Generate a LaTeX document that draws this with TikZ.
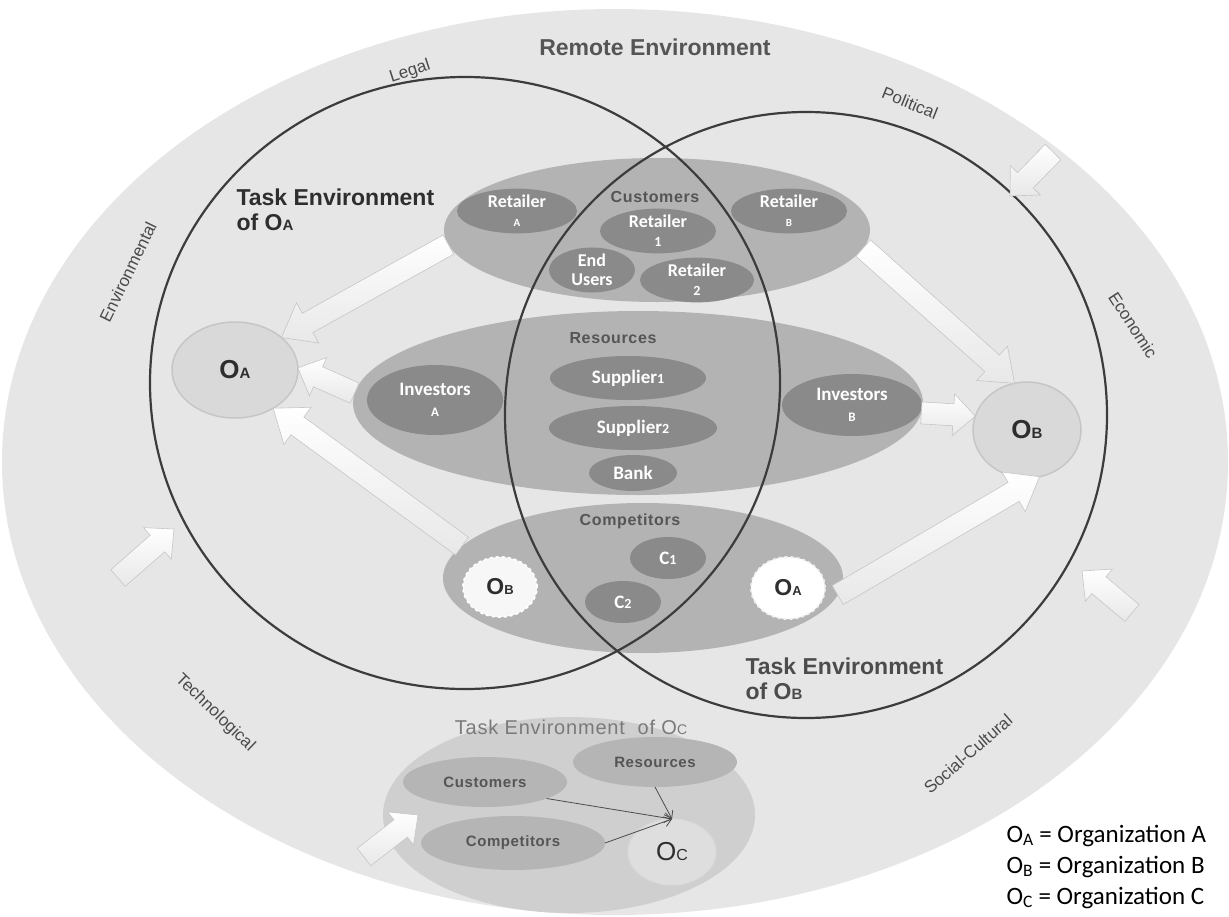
\documentclass[tikz,border=0pt]{standalone}
\usepackage{fontspec}
\setmainfont{Liberation Sans}
\newfontfamily\calfont{Carlito}
\newfontfamily\spfont[LetterSpace=4]{Liberation Sans}
\usetikzlibrary{shapes.geometric,calc,arrows.meta}

\definecolor{bgell}{HTML}{E6E6E6}
\definecolor{midell}{HTML}{B3B3B3}
\definecolor{darkell}{HTML}{8A8A8A}
\definecolor{orgfill}{HTML}{D9D9D9}
\definecolor{orgline}{HTML}{C6C6C6}
\definecolor{orgtxt}{HTML}{2E2E2E}
\definecolor{txtgray}{HTML}{555555}
\definecolor{outertxt}{HTML}{4A4A4A}
\definecolor{ringline}{HTML}{3C3C3C}
\definecolor{ocenv}{HTML}{CFCFCF}
\definecolor{ocitem}{HTML}{B5B5B5}
\definecolor{octxt}{HTML}{7A7A7A}
\definecolor{ocorg}{HTML}{DEDEDE}

\newcommand\fs[1]{\fontsize{#1}{#1}\selectfont}
\newcommand\blkarrow[5]{%
  \coordinate (bah) at ($(#2)!#5!(#1)$);
  \path[barrow] ($(#1)!#3!90:(#2)$) -- ($(bah)!#3!90:(#2)$) -- ($(bah)!#4!90:(#2)$) -- (#2)
     -- ($(bah)!#4!-90:(#2)$) -- ($(bah)!#3!-90:(#2)$) -- ($(#1)!#3!-90:(#2)$) -- cycle;
}

\tikzset{
  sz/.style 2 args={minimum width=#1pt, minimum height=#2pt},
  ell/.style={ellipse, inner sep=0pt, outer sep=0pt},
  grp/.style={ell, fill=midell},
  item/.style={ell, fill=darkell, text=white, align=center, font=\calfont\bfseries\fontsize{18}{19}\selectfont},
  org/.style={ell, fill=orgfill, draw=orgline, line width=1.5pt, text=orgtxt, font=\bfseries},
  ring/.style={ell, draw=ringline, line width=2.2pt},
  grplbl/.style={text=txtgray, font=\spfont\bfseries\fs{16}},
  outer/.style={text=outertxt, font=\fs{17}},
  ocitm/.style={ell, fill=ocitem, text=txtgray, font=\spfont\bfseries\fs{15}},
  barrow/.style={top color=white, bottom color=gray!18, draw=gray!45, line width=0.6pt},
  thinarr/.style={draw=gray!60!black, line width=0.8pt, -{Straight Barb[length=7pt,width=10pt]}},
}

\begin{document}
\begin{tikzpicture}[x=1pt,y=-1pt]
\useasboundingbox (0,0) rectangle (1229,916);

% remote environment
\node[ell, fill=bgell, sz={1226}{906}] (remote) at (615,462) {};
\node[text=txtgray, font=\bfseries\fs{23}] (remotelbl) at (655,47) {Remote Environment};

\node[outer, rotate=18] (legal) at (410,72) {Legal};
\node[outer, rotate=-22] (political) at (910,103) {Political};
\node[outer, rotate=64] (environmental) at (128,272) {Environmental};
\node[outer, rotate=-57] (economic) at (1133,325) {Economic};
\node[outer, rotate=-44] (technological) at (215,713) {Technological};
\node[outer, rotate=41] (social) at (968,754) {Social-Cultural};

% task environment of O_C
\node[ell, fill=ocenv, sz={372}{196}] (ocenv) at (569,815) {};
\node[text=octxt, font=\spfont\fs{20}] (ocenvlbl) at (571,727) {Task Environment \ of O{\fs{14}C}};
\node[ocitm, sz={164}{50}] (occust) at (485,782) {Customers};
\node[ocitm, sz={164}{50}] (ocres) at (655,762) {Resources};
\node[ocitm, sz={184}{54}] (occomp) at (513,843) {Competitors};
\node[ell, fill=ocorg, draw=gray!30, line width=1pt, sz={88}{66}, text=orgtxt] (oc) at (672,852) {\fs{26}O\fs{16}C};
\draw[thinarr] (occust.-15) -- (oc.north);
\draw[thinarr] (ocres.south) -- (oc.north);
\draw[thinarr] (occomp.east) -- (oc.north);

% customers
\node[grp, sz={426}{144}] (cust) at (657,230) {};
\node[grplbl] (custlbl) at (655,197) {Customers};
\node[item, sz={120}{44}] (retA) at (517,211) {Retailer\\{\fs{11}A}};
\node[item, sz={116}{40}] (ret1) at (658,231) {Retailer\\{\fs{14}1}};
\node[item, sz={86}{40}] (endu) at (592,270) {End\\Users};
\node[item, sz={114}{42}] (ret2) at (697,280) {Retailer\\{\fs{14}2}};
\node[item, sz={116}{40}] (retB) at (789,211) {Retailer\\{\fs{11}B}};

% resources
\node[grp, sz={570}{184}] (res) at (638,403) {};
\node[grplbl] (reslbl) at (613,338) {Resources};
\node[item, sz={156}{44}, font=\calfont\bfseries\fs{19}] (sup1) at (628,378) {Supplier{\fs{14}1}};
\node[item, sz={168}{44}, font=\calfont\bfseries\fs{19}] (sup2) at (633,428) {Supplier{\fs{14}2}};
\node[item, sz={88}{36}, font=\calfont\bfseries\fs{19}] (bank) at (633,473) {Bank};
\node[item, sz={136}{70}, font=\calfont\bfseries\fontsize{19}{21}\selectfont] (invA) at (435,400) {Investors\\{\fs{13}A}};
\node[item, sz={140}{62}, font=\calfont\bfseries\fontsize{19}{21}\selectfont] (invB) at (852,405) {Investors\\{\fs{13}B}};

% competitors
\node[grp, sz={400}{150}] (comp) at (643,578) {};
\node[grplbl] (complbl) at (630,521) {Competitors};
\node[item, sz={76}{42}, font=\calfont\bfseries\fs{19}] (c1) at (668,558) {C{\fs{14}1}};
\node[item, sz={76}{42}, font=\calfont\bfseries\fs{19}] (c2) at (623,602) {C{\fs{14}2}};
\node[ell, fill=white!94!gray, draw=white, dashed, line width=1.8pt, sz={74}{60}, text=orgtxt, font=\bfseries] (cobB) at (500,587) {\fs{23}O\fs{13}B};
\node[ell, fill=white, draw=gray!12, dashed, line width=1.8pt, sz={74}{62}, text=orgtxt, font=\bfseries] (coA) at (788,588) {\fs{23}O\fs{13}A};

% organizations
\node[org, sz={126}{96}] (OA) at (235,370) {\fs{26}O\fs{15}A};
\node[org, sz={108}{96}] (OB) at (1027,430) {\fs{26}O\fs{15}B};

% task environment rings
\node[ring, sz={630}{612}] (taskA) at (465,383) {};
\node[ring, sz={602}{606}] (taskB) at (806,415) {};
\node[anchor=north west, align=left, text=orgtxt, font=\bfseries\fontsize{23}{25}\selectfont] (taskAlbl) at (233,185) {Task Environment\\of O{\fs{15}A}};
\node[anchor=north west, align=left, text=txtgray!90!black, font=\bfseries\fontsize{23}{25}\selectfont] (taskBlbl) at (742,654) {Task Environment\\of O{\fs{15}B}};

% block arrows
\blkarrow{cust.184}{OA.35}{11pt}{23pt}{30pt}
\blkarrow{res.178}{OA.2}{11pt}{21pt}{22pt}
\blkarrow{comp.170}{OA.-45}{11pt}{23pt}{30pt}
\blkarrow{cust.-5}{OB.105}{11pt}{23pt}{30pt}
\blkarrow{res.-2}{OB.165}{11pt}{21pt}{22pt}
\blkarrow{comp.-5}{OB.-75}{11pt}{23pt}{30pt}

\coordinate (polT) at (1053,152); \coordinate (polH) at (1010,196);
\coordinate (socT) at (1132,613); \coordinate (socH) at (1082,571);
\coordinate (envT) at (118,578);  \coordinate (envH) at (174,529);
\coordinate (tecT) at (364,857);  \coordinate (tecH) at (418,815);
\blkarrow{polT}{polH}{11pt}{21pt}{22pt}
\blkarrow{socT}{socH}{11pt}{21pt}{22pt}
\blkarrow{envT}{envH}{11pt}{21pt}{22pt}
\blkarrow{tecT}{tecH}{11pt}{21pt}{22pt}

% legend
\node[anchor=base west, font=\calfont\fs{25}] (leg1) at (1003,842) {O\textsubscript{A} = Organization A};
\node[anchor=base west, font=\calfont\fs{25}] (leg2) at (1003,873) {O\textsubscript{B} = Organization B};
\node[anchor=base west, font=\calfont\fs{25}] (leg3) at (1003,904) {O\textsubscript{C} = Organization C};
\end{tikzpicture}
\end{document}
